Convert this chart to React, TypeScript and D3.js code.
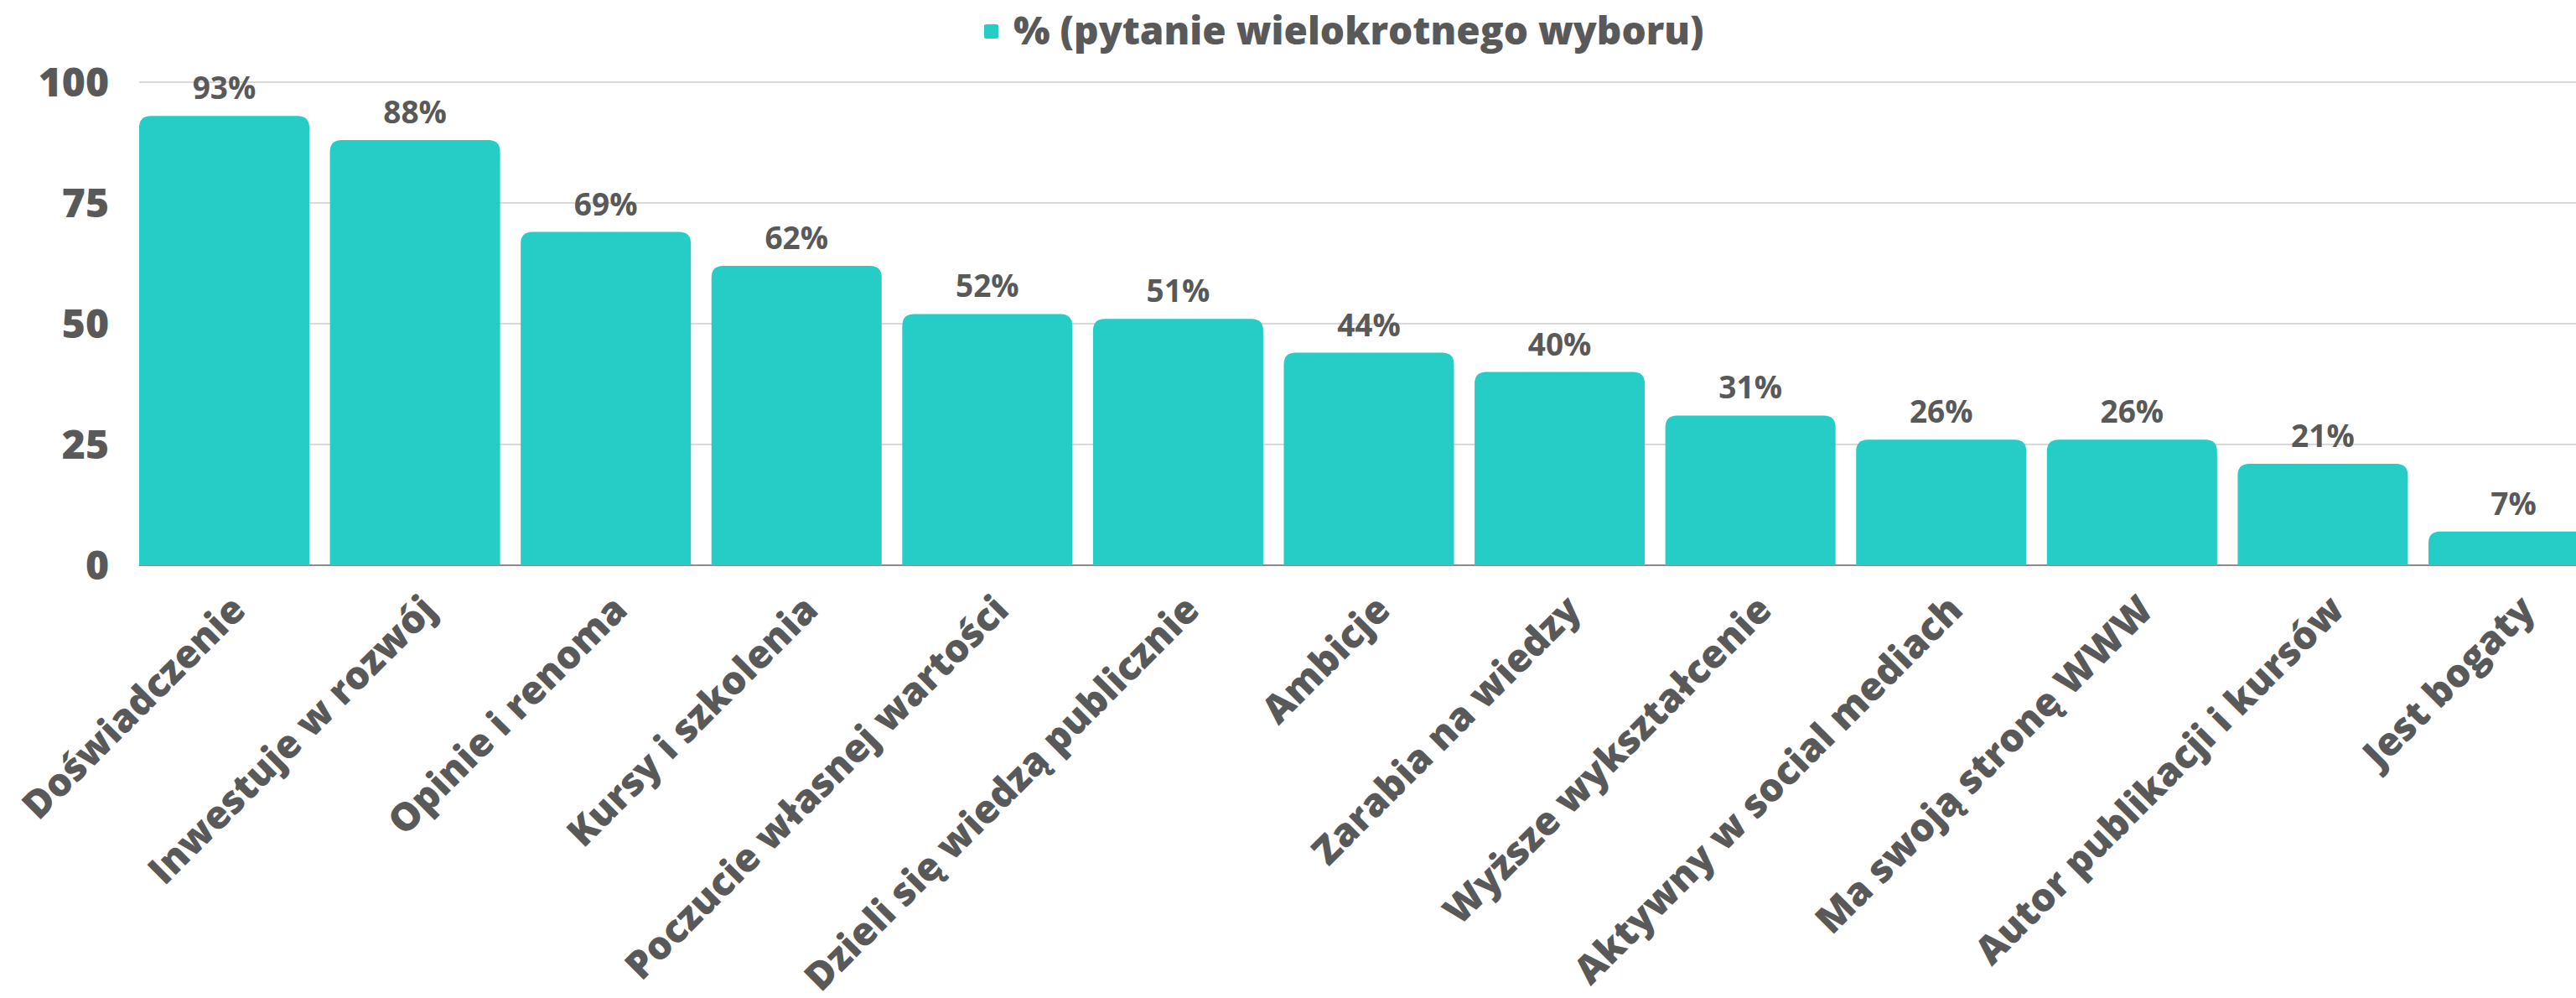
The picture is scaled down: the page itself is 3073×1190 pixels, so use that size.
import { useEffect, useRef } from 'react';
import * as d3 from 'd3';

const categories = [
    'Doświadczenie',
    'Inwestuje w rozwój',
    'Opinie i renoma',
    'Kursy i szkolenia',
    'Poczucie własnej wartości',
    'Dzieli się wiedzą publicznie',
    'Ambicje',
    'Zarabia na wiedzy',
    'Wyższe wykształcenie',
    'Aktywny w social mediach',
    'Ma swoją stronę WWW',
    'Autor publikacji i kursów',
    'Jest bogaty',
];
const values = [93, 88, 69, 62, 52, 51, 44, 40, 31, 26, 26, 21, 7];
const yTicks = [0, 25, 50, 75, 100];
const seriesName = '% (pytanie wielokrotnego wyboru)';

const WIDTH = 3073;
const HEIGHT = 1190;
const BAR = '#26cdc6';
const TEXT = '#595959';
const FONT = '"Open Sans", "Noto Sans", sans-serif';

function App() {
    const svgRef = useRef<SVGSVGElement>(null);

    useEffect(() => {
        const svg = d3.select(svgRef.current);
        svg.selectAll('*').remove();

        // plot area runs past the right edge, last bar is cut off like in the original
        const x = d3.scaleBand()
            .domain(categories)
            .range([166, 3100])
            .paddingInner(0.108)
            .paddingOuter(0);

        const y = d3.scaleLinear()
            .domain([0, 100])
            .range([674, 98]);

        // gridlines
        svg.append('g')
            .selectAll('line')
            .data(yTicks.filter(t => t > 0))
            .join('line')
            .attr('x1', 166)
            .attr('x2', WIDTH)
            .attr('y1', d => y(d))
            .attr('y2', d => y(d))
            .attr('stroke', '#d9d9d9')
            .attr('stroke-width', 2);

        // y tick labels
        svg.append('g')
            .selectAll('text')
            .data(yTicks)
            .join('text')
            .attr('x', 130)
            .attr('y', d => y(d))
            .attr('dy', '0.36em')
            .attr('text-anchor', 'end')
            .attr('font-family', FONT)
            .attr('font-weight', 800)
            .attr('font-size', 48)
            .attr('fill', TEXT)
            .text(d => d);

        // baseline
        svg.append('line')
            .attr('x1', 166)
            .attr('x2', WIDTH)
            .attr('y1', y(0))
            .attr('y2', y(0))
            .attr('stroke', '#8c8c8c')
            .attr('stroke-width', 2);

        // bars with rounded top corners
        const r = 14;
        const barPath = (x0: number, w: number, yt: number, yb: number) => {
            const rr = Math.min(r, (yb - yt), w / 2);
            return `M${x0},${yb}V${yt + rr}Q${x0},${yt} ${x0 + rr},${yt}H${x0 + w - rr}Q${x0 + w},${yt} ${x0 + w},${yt + rr}V${yb}Z`;
        };

        svg.append('g')
            .selectAll('path')
            .data(values)
            .join('path')
            .attr('fill', BAR)
            .attr('d', (d, i) => barPath(x(categories[i])!, x.bandwidth(), y(d), y(0)));

        // value labels
        svg.append('g')
            .selectAll('text')
            .data(values)
            .join('text')
            .attr('x', (d, i) => x(categories[i])! + x.bandwidth() / 2)
            .attr('y', d => y(d) - 20)
            .attr('text-anchor', 'middle')
            .attr('font-family', FONT)
            .attr('font-weight', 700)
            .attr('font-size', 37)
            .attr('fill', TEXT)
            .text(d => d + '%');

        // category labels, rotated -45
        svg.append('g')
            .selectAll('text')
            .data(categories)
            .join('text')
            .attr('transform', d => `translate(${x(d)! + x.bandwidth() / 2 + 28},${y(0) + 56}) rotate(-45)`)
            .attr('text-anchor', 'end')
            .attr('font-family', FONT)
            .attr('font-weight', 800)
            .attr('font-size', 46)
            .attr('fill', TEXT)
            .text(d => d);

        // legend
        const legend = svg.append('g');
        legend.append('rect')
            .attr('x', 1174)
            .attr('y', 29)
            .attr('width', 17)
            .attr('height', 17)
            .attr('rx', 2)
            .attr('fill', BAR);
        legend.append('text')
            .attr('x', 1209)
            .attr('y', 53)
            .attr('font-family', FONT)
            .attr('font-weight', 800)
            .attr('font-size', 46)
            .attr('fill', TEXT)
            .text(seriesName);
    }, []);

    return (
        <svg
            ref={svgRef}
            width={WIDTH}
            height={HEIGHT}
            style={{ position: 'absolute', left: 0, top: 0, display: 'block', background: '#fff' }}
        />
    );
}

export default App;
